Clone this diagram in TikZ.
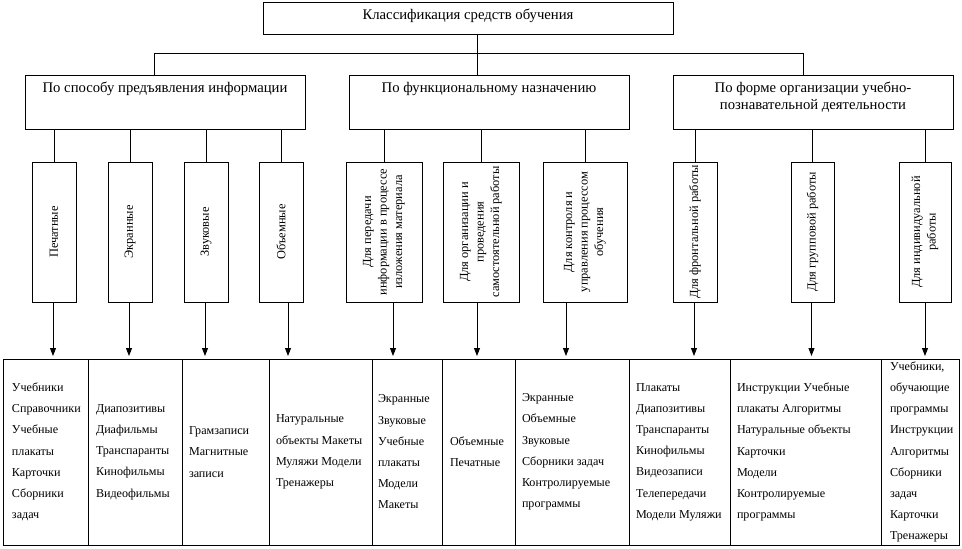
\documentclass[tikz,border=0pt]{standalone}
\usepackage{fontspec}
\setmainfont{Liberation Serif}
\usetikzlibrary{calc,arrows.meta}

\begin{document}
\begin{tikzpicture}[x=1pt,y=-1pt,inner sep=0pt,outer sep=0pt,line width=0.9pt,
    box/.style={draw,anchor=north west},
    head/.style={font=\fontsize{14.7}{17}\selectfont,align=center},
    vtext/.style={font=\fontsize{12.4}{15.5}\selectfont,align=center,rotate=90,anchor=center},
    cell/.style={draw,anchor=north west,minimum height=186},
    ctext/.style={font=\fontsize{12.1}{21.2}\selectfont,align=left,anchor=west},
    arr/.style={-{Triangle[width=6pt,length=8pt]},shorten >=3pt}]
    \useasboundingbox (0,0) rectangle (962,549);

    % title
    \node[box,minimum width=410,minimum height=32] (top) at (263,2) {};
    \node[head,anchor=center] (top_txt) at ($(top.center)+(0,-2)$)
    {Классификация средств обучения};

    % categories
    \node[box,minimum width=280,minimum height=54] (cat1) at (25,75) {};
    \node[head,anchor=north] (cat1_txt) at ($(cat1.north)+(0,7)$)
    {По способу предъявления информации};
    \node[box,minimum width=280,minimum height=54] (cat2) at (349,75) {};
    \node[head,anchor=north] (cat2_txt) at ($(cat2.north)+(0,7)$)
    {По функциональному назначению};
    \node[box,minimum width=280,minimum height=54] (cat3) at (673,75) {};
    \node[head,anchor=north] (cat3_txt) at ($(cat3.north)+(0,7)$)
    {По форме организации учебно-\\познавательной деятельности};

    % bus from the title
    \coordinate (bus_l) at (154,53);
    \coordinate (bus_m) at (477,53);
    \coordinate (bus_r) at (803,53);
    \draw (bus_l) -- (bus_r);
    \draw (top.south -| bus_m) -- (cat2.north -| bus_m);
    \draw (bus_l) -- (cat1.north -| bus_l);
    \draw (bus_r) -- (cat3.north -| bus_r);

    % kinds
    \node[box,minimum width=44,minimum height=140] (s1) at (32,162) {};
    \node[vtext] (s1_txt) at (s1.center) {Печатные};
    \node[box,minimum width=44,minimum height=140] (s2) at (108,162) {};
    \node[vtext] (s2_txt) at (s2.center) {Экранные};
    \node[box,minimum width=44,minimum height=140] (s3) at (184,162) {};
    \node[vtext] (s3_txt) at (s3.center) {Звуковые};
    \node[box,minimum width=44,minimum height=140] (s4) at (259,162) {};
    \node[vtext] (s4_txt) at (s4.center) {Объемные};
    \node[box,minimum width=76,minimum height=140] (s5) at (346,162) {};
    \node[vtext] (s5_txt) at (s5.center)
    {Для передачи\\информации в процессе\\изложения материала};
    \node[box,minimum width=76,minimum height=140] (s6) at (443,162) {};
    \node[vtext] (s6_txt) at (s6.center)
    {Для организации и\\проведения\\самостоятельной работы};
    \node[box,minimum width=84,minimum height=140] (s7) at (543,162) {};
    \node[vtext] (s7_txt) at (s7.center)
    {Для контроля и\\управления процессом\\обучения};
    \node[box,minimum width=44,minimum height=140] (s8) at (673,162) {};
    \node[vtext] (s8_txt) at (s8.center) {Для фронтальной работы};
    \node[box,minimum width=43,minimum height=140] (s9) at (791,162) {};
    \node[vtext] (s9_txt) at (s9.center) {Для групповой работы};
    \node[box,minimum width=52,minimum height=140] (s10) at (899,162) {};
    \node[vtext] (s10_txt) at (s10.center) {Для индивидуальной\\работы};

    \draw (cat1.south -| s1.north) -- (s1.north);
    \draw (cat1.south -| s2.north) -- (s2.north);
    \draw (cat1.south -| s3.north) -- (s3.north);
    \draw (cat1.south -| s4.north) -- (s4.north);
    \draw (cat2.south -| s5.north) -- (s5.north);
    \draw (cat2.south -| s6.north) -- (s6.north);
    \draw (cat2.south -| s7.north) -- (s7.north);
    \draw (cat3.south -| s8.north) -- (s8.north);
    \draw (cat3.south -| s9.north) -- (s9.north);
    \draw (cat3.south -| s10.north) -- (s10.north);

    % means
    \node[cell,minimum width=85] (c1) at (3,359) {};
    \node[ctext] (c1_txt) at ($(c1.west)+(9,0)$)
    {Учебники\\Справочники\\Учебные\\плакаты\\Карточки\\Сборники\\задач};
    \node[cell,minimum width=94] (c2) at (88,359) {};
    \node[ctext] (c2_txt) at ($(c2.west)+(8,0)$)
    {Диапозитивы\\Диафильмы\\Транспаранты\\Кинофильмы\\Видеофильмы};
    \node[cell,minimum width=87] (c3) at (182,359) {};
    \node[ctext] (c3_txt) at ($(c3.west)+(7,0)$)
    {Грамзаписи\\Магнитные\\записи};
    \node[cell,minimum width=103] (c4) at (269,359) {};
    \node[ctext] (c4_txt) at ($(c4.west)+(7,0)$)
    {Натуральные\\объекты Макеты\\Муляжи Модели\\Тренажеры};
    \node[cell,minimum width=70] (c5) at (372,359) {};
    \node[ctext] (c5_txt) at ($(c5.west)+(6,0)$)
    {Экранные\\Звуковые\\Учебные\\плакаты\\Модели\\Макеты};
    \node[cell,minimum width=73] (c6) at (442,359) {};
    \node[ctext] (c6_txt) at ($(c6.west)+(8,0)$)
    {Объемные\\Печатные};
    \node[cell,minimum width=114] (c7) at (515,359) {};
    \node[ctext] (c7_txt) at ($(c7.west)+(7,0)$)
    {Экранные\\Объемные\\Звуковые\\Сборники задач\\Контролируемые\\программы};
    \node[cell,minimum width=101] (c8) at (629,359) {};
    \node[ctext] (c8_txt) at ($(c8.west)+(7,0)$)
    {Плакаты\\Диапозитивы\\Транспаранты\\Кинофильмы\\Видеозаписи\\Телепередачи\\Модели Муляжи};
    \node[cell,minimum width=151] (c9) at (730,359) {};
    \node[ctext] (c9_txt) at ($(c9.west)+(7,0)$)
    {Инструкции Учебные\\плакаты Алгоритмы\\Натуральные объекты\\Карточки\\Модели\\Контролируемые\\программы};
    \node[cell,minimum width=78] (c10) at (881,359) {};
    \node[ctext] (c10_txt) at ($(c10.west)+(9,0)$)
    {Учебники,\\обучающие\\программы\\Инструкции\\Алгоритмы\\Сборники\\задач\\Карточки\\Тренажеры};

    % arrows down
    \coordinate (a1) at ($(s1.south)+(-1,0)$);
    \coordinate (a2) at ($(s2.south)+(-1,0)$);
    \coordinate (a3) at ($(s3.south)+(-1,0)$);
    \coordinate (a4) at ($(s4.south)+(7,0)$);
    \coordinate (a5) at ($(s5.south)+(9,0)$);
    \coordinate (a6) at ($(s6.south)+(-4,0)$);
    \coordinate (a7) at ($(s7.south)+(-19,0)$);
    \coordinate (a8) at ($(s8.south)+(-1,0)$);
    \coordinate (a9) at ($(s9.south)+(-1,0)$);
    \coordinate (a10) at (s10.south);
    \draw[arr] (a1) -- (a1 |- c1.north);
    \draw[arr] (a2) -- (a2 |- c2.north);
    \draw[arr] (a3) -- (a3 |- c3.north);
    \draw[arr] (a4) -- (a4 |- c4.north);
    \draw[arr] (a5) -- (a5 |- c5.north);
    \draw[arr] (a6) -- (a6 |- c6.north);
    \draw[arr] (a7) -- (a7 |- c7.north);
    \draw[arr] (a8) -- (a8 |- c8.north);
    \draw[arr] (a9) -- (a9 |- c9.north);
    \draw[arr] (a10) -- (a10 |- c10.north);
\end{tikzpicture}
\end{document}
